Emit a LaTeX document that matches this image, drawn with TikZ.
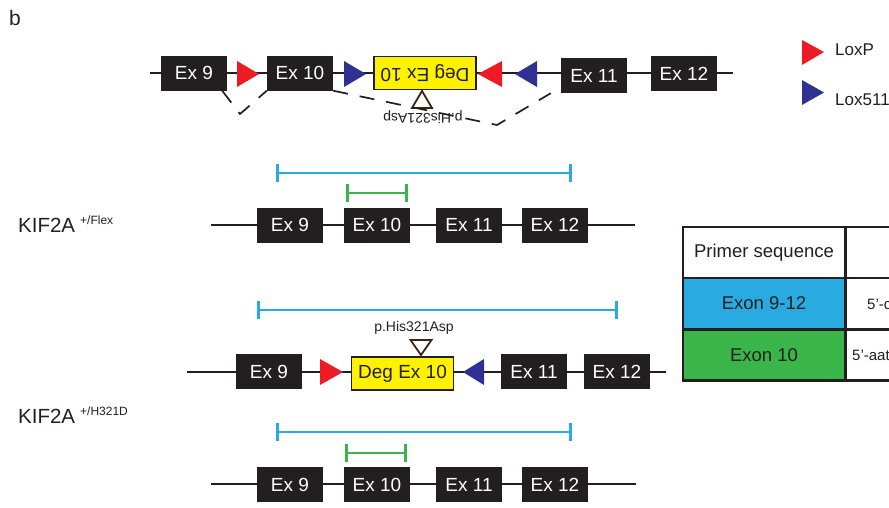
\documentclass[tikz,border=0pt]{standalone}
\usepackage{fontspec}
\setmainfont{Liberation Sans}
\usetikzlibrary{arrows.meta}
\definecolor{exgrey}{HTML}{231F20}
\definecolor{loxred}{HTML}{ED1C24}
\definecolor{loxblue}{HTML}{2E3192}
\definecolor{degyellow}{HTML}{FFF200}
\definecolor{barcyan}{HTML}{29ABE2}
\definecolor{bargreen}{HTML}{39B54A}
\definecolor{mutbrown}{HTML}{3C2415}
\begin{document}
\begin{tikzpicture}[x=1pt,y=-1pt,
  every node/.style={inner sep=0pt,text=exgrey},
  exon/.style={fill=exgrey,text=white,minimum width=66pt,minimum height=35pt,font=\fontsize{19}{19}\selectfont},
  deg/.style={draw=exgrey,line width=1.6pt,fill=degyellow,minimum width=102pt,minimum height=33pt,font=\fontsize{19}{19}\selectfont},
  gene/.style={line width=1.8pt,exgrey},
  splice/.style={line width=1.7pt,exgrey,dash pattern=on 15pt off 12pt},
  mut/.style={draw=mutbrown,line width=1.8pt,line join=miter},
  cyanbar/.style={line width=2.6pt,barcyan,{Bar[width=18pt]}-{Bar[width=18pt]}},
  greenbar/.style={line width=2.6pt,bargreen,{Bar[width=18pt]}-{Bar[width=18pt]}},
  cell/.style={draw=exgrey,line width=2.2pt,minimum width=162pt,minimum height=51pt,font=\fontsize{18.5}{18.5}\selectfont},
  seq/.style={anchor=west,font=\fontsize{15}{15}\selectfont}]
\useasboundingbox (0,0) rectangle (889,507);
\clip (0,0) rectangle (889,507);
\node[anchor=base west,font=\fontsize{21}{21}\selectfont] (lab) at (9,25) {b};
% legend
\fill[loxred] (802,40) -- (824,52) -- (802,65) -- cycle;
\fill[loxblue] (802,80) -- (824,92.5) -- (802,105) -- cycle;
\node[anchor=west,font=\fontsize{17}{17}\selectfont] (lp) at (835,50) {LoxP};
\node[anchor=west,font=\fontsize{17}{17}\selectfont] (l5) at (835,100) {Lox511};
% targeting construct
\coordinate (a0) at (150,73);
\coordinate (a1) at (733,73);
\draw[gene] (a0) -- (a1);
\node[exon] (a9) at (194,73) {Ex 9};
\node[exon] (a10) at (300,73) {Ex 10};
\node[deg,rotate=180] (ad) at (425,73) {Deg Ex 10};
\node[exon] (a11) at (594,75.5) {Ex 11};
\node[exon] (a12) at (684,73.5) {Ex 12};
\fill[loxred] (237,61) -- (259,74) -- (237,87) -- cycle;
\fill[loxblue] (344,61) -- (366,74) -- (344,87) -- cycle;
\fill[loxred] (502,61) -- (478,74) -- (502,87) -- cycle;
\fill[loxblue] (537,61) -- (515,74) -- (537,87) -- cycle;
\draw[mut] (422,91) -- (432,108) -- (412,108) -- cycle;
\node[rotate=180,font=\fontsize{14}{14}\selectfont] (am) at (423,117.5) {p.His321Asp};
\coordinate (s1) at (240,114);
\coordinate (s2) at (497,125);
\draw[splice] ([xshift=-5pt]a9.south east) -- (s1) -- (a10.south west);
\draw[splice] (a10.south east) -- (s2) -- ([xshift=-10pt]a11.south west);
% KIF2A +/Flex
\node[anchor=base west,font=\fontsize{20.5}{20.5}\selectfont] (kf) at (18,232)
  {KIF2A\hspace{5pt}\raisebox{8pt}{\fontsize{12}{12}\selectfont +/Flex}};
\coordinate (b0) at (211,225);
\coordinate (b1) at (635,225);
\draw[gene] (b0) -- (b1);
\node[exon] (b9) at (290,225) {Ex 9};
\node[exon] (b10) at (377,225) {Ex 10};
\node[exon] (b11) at (469,225) {Ex 11};
\node[exon] (b12) at (555,225) {Ex 12};
\coordinate (bc0) at (276,173);
\coordinate (bc1) at (572,173);
\coordinate (bg0) at (346,193);
\coordinate (bg1) at (408,193);
\draw[cyanbar] (bc0) -- (bc1);
\draw[greenbar] (bg0) -- (bg1);
% floxed allele with point mutation
\coordinate (c0) at (187,372);
\coordinate (c1) at (666,372);
\draw[gene] (c0) -- (c1);
\node[exon] (c9) at (269,371.5) {Ex 9};
\node[deg] (cd) at (402.5,373.5) {Deg Ex 10};
\node[exon] (c11) at (534,371.5) {Ex 11};
\node[exon] (c12) at (617,371.5) {Ex 12};
\fill[loxred] (320,359) -- (343,372) -- (320,385) -- cycle;
\fill[loxblue] (484,359) -- (463,372) -- (484,385) -- cycle;
\draw[mut] (410.5,340) -- (431.5,340) -- (421,355) -- cycle;
\node[font=\fontsize{14}{14}\selectfont] (cm) at (414,328) {p.His321Asp};
\coordinate (cc0) at (257,310);
\coordinate (cc1) at (618,310);
\draw[cyanbar] (cc0) -- (cc1);
% KIF2A +/H321D
\node[anchor=base west,font=\fontsize{20.5}{20.5}\selectfont] (kh) at (18,423)
  {KIF2A\hspace{5pt}\raisebox{8pt}{\fontsize{12}{12}\selectfont +/H321D}};
\coordinate (d0) at (211,484);
\coordinate (d1) at (636,484);
\draw[gene] (d0) -- (d1);
\node[exon] (d9) at (290,484.5) {Ex 9};
\node[exon] (d10) at (377,484.5) {Ex 10};
\node[exon] (d11) at (469,484.5) {Ex 11};
\node[exon] (d12) at (555,484.5) {Ex 12};
\coordinate (dc0) at (276,432);
\coordinate (dc1) at (572,432);
\coordinate (dg0) at (345,453);
\coordinate (dg1) at (407,453);
\draw[cyanbar] (dc0) -- (dc1);
\draw[greenbar] (dg0) -- (dg1);
% primer table
\node[cell,fill=white] (t1) at (764,252.5) {Primer sequence};
\node[cell,fill=barcyan] (t2) at (764,303.5) {Exon 9-12};
\node[cell,fill=bargreen] (t3) at (764,355) {Exon 10};
\node[cell,fill=white,anchor=west] (u1) at (845,252.5) {};
\node[cell,fill=white,anchor=west] (u2) at (845,303.5) {};
\node[cell,fill=white,anchor=west] (u3) at (845,355) {};
\node[seq] (q2) at (867,304) {5’-c};
\node[seq] (q3) at (852,355) {5’-aat};
\end{tikzpicture}
\end{document}
